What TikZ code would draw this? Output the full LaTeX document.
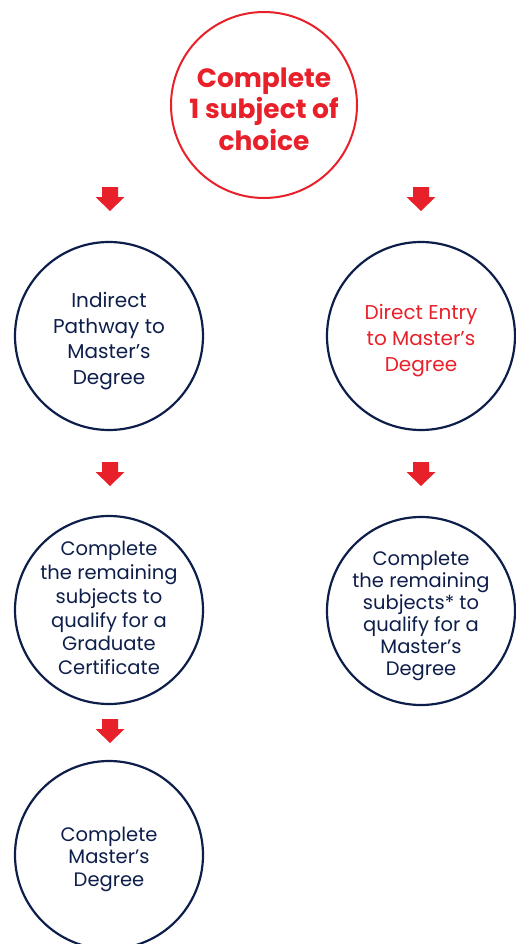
\documentclass[tikz,border=0pt]{standalone}
\usepackage{fontspec}
\setmainfont{Poppins}
\definecolor{navy}{HTML}{0E1E4A}
\definecolor{brandred}{HTML}{E8202A}
\begin{document}
\begin{tikzpicture}[x=1pt,y=-1pt,
  stage/.style={circle, draw=navy, line width=2.2pt, minimum size=188pt, inner sep=0pt},
  topstage/.style={circle, draw=brandred, line width=2pt, minimum size=186pt, inner sep=0pt},
  stagetext/.style={align=center, text=navy, inner sep=0pt, font=\fontsize{20}{24}\selectfont},
  toptext/.style={align=center, text=brandred, inner sep=0pt, font=\fontsize{26.5}{31.5}\selectfont\bfseries},
  downarrow/.pic={\fill[brandred] (-8,-12) -- (8,-12) -- (8,-2) -- (14.5,-2) -- (0,12) -- (-14.5,-2) -- (-8,-2) -- cycle;}
]
\useasboundingbox (0,0) rectangle (515,944);
\node[topstage] (top) at (264,105) {};
\node[toptext] (topt) at (264,109) {Complete\\1 subject of\\choice};
\node[stage] (ind) at (109,336) {};
\node[stagetext, font=\fontsize{20}{25.5}\selectfont] (indt) at (109,341) {Indirect\\Pathway to\\Master’s\\Degree};
\node[stage] (dir) at (421,336) {};
\node[stagetext, text=brandred, font=\fontsize{20}{26}\selectfont] (dirt) at (421,341) {Direct Entry\\to Master’s\\Degree};
\node[stage] (grad) at (109,610) {};
\node[stagetext, font=\fontsize{19.5}{23.8}\selectfont] (gradt) at (109,608) {Complete\\the remaining\\subjects to\\qualify for a\\Graduate\\Certificate};
\node[stage] (rem) at (421,611) {};
\node[stagetext, font=\fontsize{19.5}{22}\selectfont] (remt) at (421,616) {Complete\\the remaining\\subjects* to\\qualify for a\\Master’s\\Degree};
\node[stage] (fin) at (109,855) {};
\node[stagetext, font=\fontsize{19.5}{22.5}\selectfont] (fint) at (109,859) {Complete\\Master’s\\Degree};
\pic at (110,199) {downarrow};
\pic at (421,199) {downarrow};
\pic at (110,474) {downarrow};
\pic at (421,474) {downarrow};
\pic at (110,731) {downarrow};
\end{tikzpicture}
\end{document}
